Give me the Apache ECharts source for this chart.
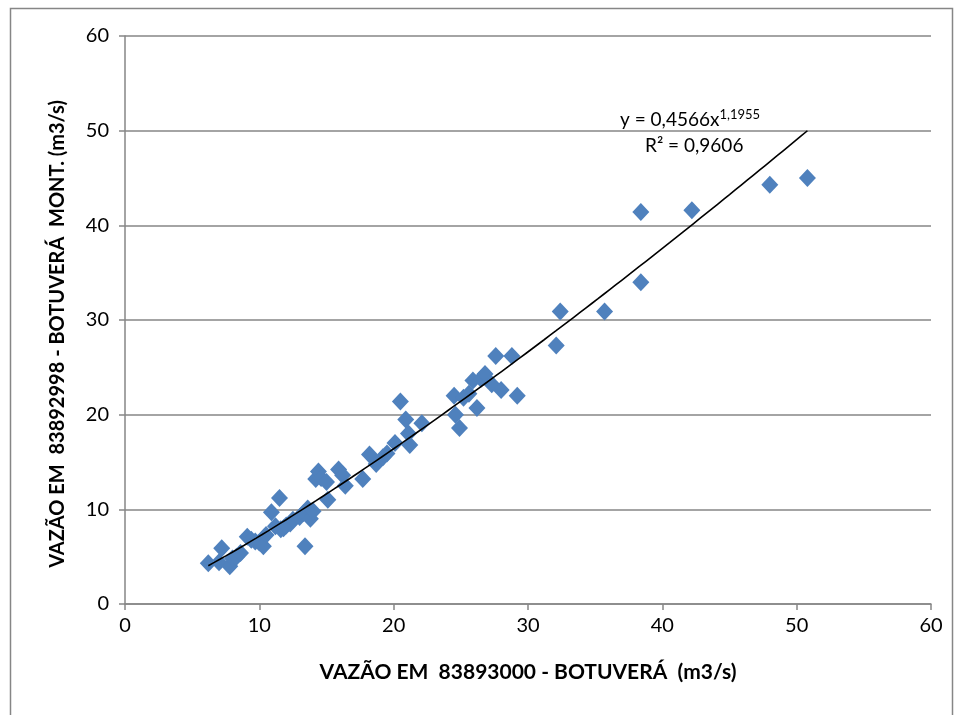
<!DOCTYPE html>
<html><head><meta charset="utf-8">
<script src="https://cdn.jsdelivr.net/npm/echarts@6/dist/echarts.min.js"></script>
<style>html,body{margin:0;padding:0;background:#fff}#c{width:962px;height:715px}</style>
</head><body><div id="c"></div>
<script>
// Observed points: x = flow at 83893000 - Botuverá, y = flow at 83892998 - Botuverá Mont. (m3/s)
const xValues = [6.2,7.0,7.2,7.8,8.0,8.3,8.6,9.1,9.4,9.7,10.0,10.3,10.5,10.9,11.2,11.5,11.6,11.8,12.0,12.3,12.5,13.0,13.3,13.4,13.6,13.8,14.0,14.2,14.4,14.6,15.0,15.1,15.9,16.2,16.4,17.7,18.2,18.7,19.2,19.5,20.1,20.5,20.9,21.1,21.2,22.1,24.5,24.6,24.9,25.2,25.6,25.9,26.2,26.5,26.8,27.3,27.6,28.0,28.8,29.2,32.1,32.4,35.7,38.4,38.4,42.2,48.0,50.8];
const yValues = [4.3,4.4,5.9,4.0,4.8,5.0,5.4,7.1,6.8,6.6,6.5,6.1,7.3,9.7,8.2,11.2,7.9,8.0,8.3,8.5,8.9,9.2,9.6,6.1,10.1,9.0,9.8,13.2,14.0,13.3,12.9,11.0,14.2,13.6,12.5,13.2,15.8,14.8,15.5,15.9,17.0,21.4,19.5,18.0,16.8,19.1,22.0,20.0,18.6,21.8,22.2,23.6,20.7,23.8,24.3,23.2,26.2,22.6,26.2,22.0,27.3,30.9,30.9,34.0,41.4,41.6,44.3,45.0];
// Power trendline shown on the chart: y = 0,4566 x^1,1955 ; R² = 0,9606
const trendA = 0.4566, trendB = 1.1955;
const axisTicks = [0,10,20,30,40,50,60];
const xTitle = 'VAZÃO EM  83893000 - BOTUVERÁ  (m3/s)';
const yTitle = 'VAZÃO EM  83892998 - BOTUVERÁ  MONT. (m3/s)';

const pts = xValues.map((x,i)=>[x,yValues[i]]);
const xmin = Math.min(...xValues), xmax = Math.max(...xValues);
const trend = [];
for (let k=0;k<=100;k++){ const x = xmin + (xmax-xmin)*k/100; trend.push([x, trendA*Math.pow(x,trendB)]); }

const chart = echarts.init(document.getElementById('c'));
const fontFam = 'Lato, "Open Sans", sans-serif';
chart.setOption({
  animation:false,
  backgroundColor:'#fff',
  grid:{left:125,right:31,top:36,bottom:111},
  xAxis:{type:'value',min:axisTicks[0],max:axisTicks[axisTicks.length-1],interval:10,
    name:xTitle,nameLocation:'middle',nameGap:58,
    nameTextStyle:{fontFamily:fontFam,fontWeight:'bold',fontSize:21,color:'#000'},
    axisLine:{show:true,onZero:false,lineStyle:{color:'#868686',width:1.5}},
    axisTick:{show:true,length:6,lineStyle:{color:'#868686',width:1.5}},
    axisLabel:{fontFamily:fontFam,fontSize:20,color:'#000',margin:12},
    splitLine:{show:false}},
  yAxis:{type:'value',min:axisTicks[0],max:axisTicks[axisTicks.length-1],interval:10,
    name:yTitle,nameLocation:'middle',nameGap:57,nameRotate:90,
    nameTextStyle:{fontFamily:fontFam,fontWeight:'bold',fontSize:20,color:'#000',padding:[0,28,0,0]},
    axisLine:{show:true,onZero:false,lineStyle:{color:'#868686',width:1.5}},
    axisTick:{show:true,length:6,lineStyle:{color:'#868686',width:1.5}},
    axisLabel:{fontFamily:fontFam,fontSize:20,color:'#000',margin:16},
    splitLine:{show:true,lineStyle:{color:'#868686',width:1.5}}},
  series:[
    {type:'scatter',data:pts,symbol:'diamond',symbolSize:[17,18],
      itemStyle:{color:'#4F81BD',opacity:1},z:2},
    {type:'line',data:trend,showSymbol:false,symbol:'none',smooth:false,
      lineStyle:{color:'#000',width:1.6},z:3}
  ],
  graphic:[
    {type:'rect',shape:{x:10.5,y:8.5,width:942,height:720},style:{fill:'none',stroke:'#868686',lineWidth:1.5},silent:true,z:-1},
    {type:'text',left:620,top:108,style:{rich:{n:{fontFamily:fontFam,fontSize:19,fill:'#000'},s:{fontFamily:fontFam,fontSize:13,fill:'#000',verticalAlign:'top',padding:[0,0,10,0]}},text:'{n|y = 0,4566x}{s|1,1955}'}},
    {type:'text',left:645,top:136,style:{text:'R² = 0,9606',fontFamily:fontFam,fontSize:19,fill:'#000'}}
  ]
});
</script></body></html>
